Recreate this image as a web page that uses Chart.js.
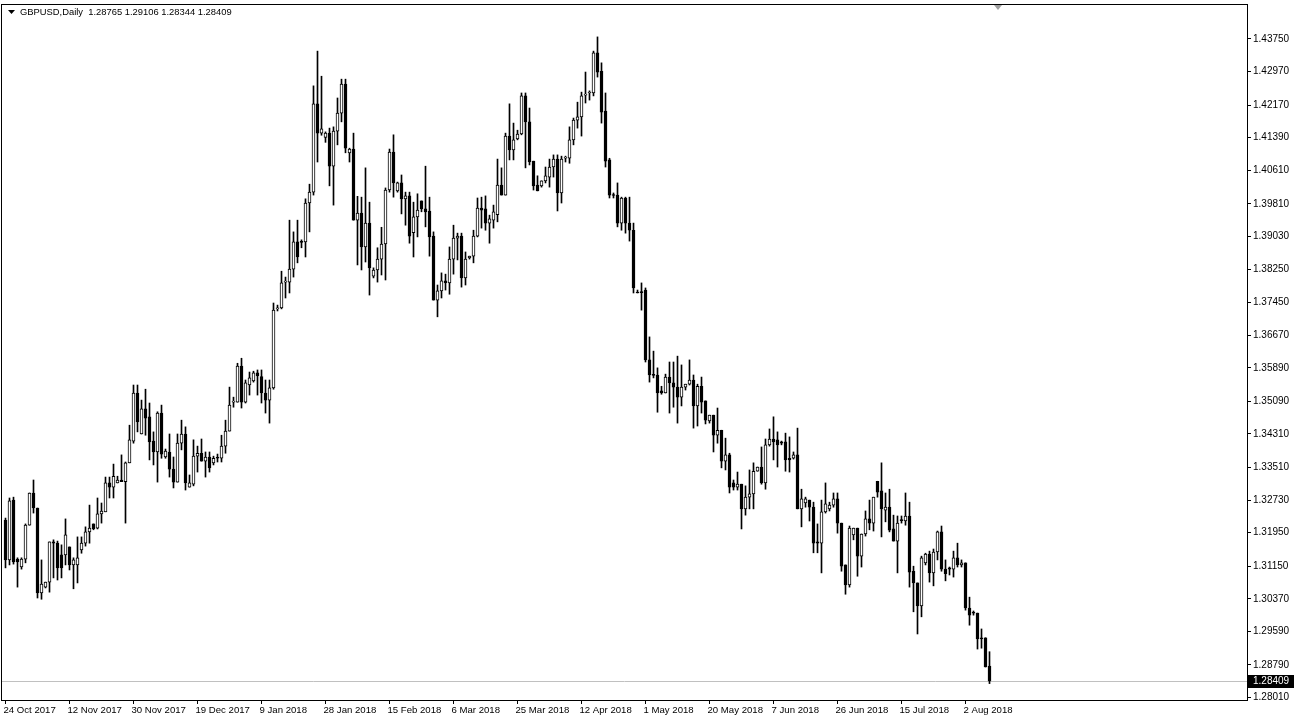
<!DOCTYPE html>
<html><head><meta charset="utf-8">
<script src="https://cdn.jsdelivr.net/npm/chart.js@4.4.0/dist/chart.umd.min.js"></script>
<style>html,body{margin:0;padding:0;background:#fff;overflow:hidden}</style>
</head><body>
<canvas id="c" width="1294" height="724"></canvas>
<script>
const symbolTitle = 'GBPUSD,Daily';
const opens = [1.3225,1.3130,1.3273,1.3132,1.3113,1.3132,1.3213,1.3290,1.3254,1.3051,1.3065,1.3077,1.3173,1.3170,1.3142,1.3142,1.3161,1.3118,1.3118,1.3154,
1.3170,1.3197,1.3216,1.3206,1.3240,1.3245,1.3314,1.3304,1.3314,1.3321,1.3317,1.3362,1.3414,1.3529,1.3431,1.3491,1.3472,1.3414,1.3388,1.3481,
1.3376,1.3388,1.3347,1.3316,1.3409,1.3431,1.3304,1.3311,1.3378,1.3385,1.3366,1.3376,1.3362,1.3374,1.3373,1.3402,1.3438,1.3507,1.3507,1.3593,
1.3507,1.3548,1.3558,1.3577,1.3568,1.3529,1.3512,1.3541,1.3730,1.3732,1.3794,1.3794,1.3825,1.3890,1.3890,1.3890,1.3983,1.4009,1.4220,1.4150,
1.4140,1.4150,1.4071,1.4155,1.4198,1.4267,1.4103,1.4112,1.3942,1.3959,1.3878,1.3935,1.3808,1.3823,1.3849,1.3885,1.4014,1.4105,1.4012,1.4031,
1.3993,1.4000,1.3912,1.3950,1.3988,1.3969,1.3964,1.3904,1.3751,1.3773,1.3797,1.3792,1.3849,1.3899,1.3904,1.3804,1.3852,1.3856,1.3904,1.3971,
1.3969,1.3935,1.3942,1.3955,1.4026,1.4002,1.4143,1.4110,1.4136,1.4148,1.4239,1.4177,1.4083,1.4026,1.4024,1.4036,1.4045,1.4069,1.4088,1.4007,
1.4090,1.4090,1.4134,1.4181,1.4189,1.4241,1.4246,1.4246,1.4342,1.4298,1.4203,1.4086,1.4002,1.4002,1.3935,1.3995,1.3935,1.3918,1.3770,1.3770,
1.3775,1.3608,1.3572,1.3572,1.3534,1.3529,1.3567,1.3553,1.3543,1.3519,1.3543,1.3550,1.3560,1.3498,1.3545,1.3510,1.3462,1.3476,1.3428,1.3440,
1.3366,1.3381,1.3314,1.3304,1.3311,1.3252,1.3280,1.3288,1.3342,1.3352,1.3314,1.3405,1.3419,1.3417,1.3412,1.3412,1.3373,1.3373,1.3381,1.3252,
1.3266,1.3273,1.3256,1.3173,1.3170,1.3245,1.3252,1.3261,1.3276,1.3218,1.3118,1.3070,1.3190,1.3206,1.3139,1.3192,1.3228,1.3218,1.3318,1.3295,
1.3249,1.3256,1.3204,1.3175,1.3225,1.3223,1.3235,1.3103,1.3075,1.3020,1.3123,1.3144,1.3099,1.3149,1.3197,1.3108,1.3111,1.3108,1.3135,1.3118,
1.3123,1.3015,1.3005,1.3003,1.2944,1.2944,1.28765];
const highs = [1.3230,1.3278,1.3280,1.3135,1.3135,1.3216,1.3290,1.3321,1.3254,1.3130,1.3077,1.3173,1.3178,1.3175,1.3166,1.3228,1.3161,1.3135,1.3185,1.3185,
1.3209,1.3261,1.3216,1.3278,1.3266,1.3328,1.3328,1.3359,1.3330,1.3381,1.3364,1.3452,1.3548,1.3548,1.3512,1.3538,1.3505,1.3436,1.3484,1.3500,
1.3395,1.3431,1.3376,1.3431,1.3464,1.3448,1.3333,1.3417,1.3402,1.3419,1.3388,1.3388,1.3378,1.3383,1.3428,1.3464,1.3543,1.3519,1.3600,1.3612,
1.3560,1.3579,1.3581,1.3584,1.3584,1.3560,1.3560,1.3744,1.3739,1.3820,1.3806,1.3942,1.3914,1.3942,1.3895,1.3993,1.4028,1.4263,1.4346,1.4286,
1.4153,1.4162,1.4165,1.4234,1.4279,1.4279,1.4114,1.4150,1.3999,1.3997,1.4067,1.3985,1.3828,1.3876,1.3925,1.4019,1.4112,1.4146,1.4033,1.4050,
1.4009,1.4009,1.3985,1.4005,1.3988,1.4071,1.3997,1.3914,1.3787,1.3816,1.3813,1.3878,1.3930,1.3911,1.3911,1.3866,1.3856,1.3918,1.3995,1.3997,
1.4000,1.3954,1.3978,1.4088,1.4067,1.4150,1.4220,1.4174,1.4157,1.4246,1.4246,1.4210,1.4083,1.4048,1.4036,1.4069,1.4088,1.4098,1.4098,1.4095,
1.4095,1.4165,1.4186,1.4224,1.4248,1.4296,1.4251,1.4346,1.4380,1.4318,1.4246,1.4090,1.4007,1.4031,1.3997,1.3997,1.3997,1.3935,1.3775,1.3792,
1.3780,1.3663,1.3629,1.3589,1.3545,1.3574,1.3603,1.3603,1.3617,1.3596,1.3550,1.3608,1.3572,1.3550,1.3567,1.3510,1.3476,1.3476,1.3493,1.3440,
1.3421,1.3385,1.3321,1.3340,1.3311,1.3307,1.3345,1.3362,1.3352,1.3400,1.3419,1.3443,1.3472,1.3436,1.3414,1.3433,1.3424,1.3388,1.3445,1.3299,
1.3280,1.3273,1.3268,1.3216,1.3273,1.3314,1.3268,1.3290,1.3290,1.3218,1.3118,1.3211,1.3206,1.3206,1.3192,1.3247,1.3273,1.3280,1.3318,1.3362,
1.3290,1.3299,1.3237,1.3235,1.3235,1.3290,1.3268,1.3115,1.3075,1.3139,1.3146,1.3151,1.3156,1.3199,1.3211,1.3130,1.3113,1.3151,1.3170,1.3130,
1.3123,1.3041,1.3008,1.3003,1.2965,1.2944,1.29106];
const lows = [1.3111,1.3118,1.3120,1.3065,1.3108,1.3123,1.3213,1.3242,1.3039,1.3036,1.3063,1.3053,1.3087,1.3082,1.3087,1.3118,1.3106,1.3061,1.3075,1.3146,
1.3163,1.3170,1.3202,1.3204,1.3218,1.3245,1.3278,1.3278,1.3314,1.3317,1.3218,1.3362,1.3409,1.3436,1.3431,1.3428,1.3369,1.3357,1.3316,1.3373,
1.3373,1.3328,1.3302,1.3316,1.3393,1.3297,1.3304,1.3307,1.3340,1.3366,1.3328,1.3340,1.3357,1.3364,1.3364,1.3385,1.3438,1.3495,1.3507,1.3493,
1.3505,1.3524,1.3555,1.3524,1.3505,1.3481,1.3457,1.3538,1.3725,1.3730,1.3756,1.3768,1.3806,1.3840,1.3876,1.3854,1.3914,1.4002,1.4081,1.4145,
1.4128,1.4024,1.3978,1.4122,1.4177,1.4103,1.4081,1.3942,1.3835,1.3823,1.3842,1.3763,1.3804,1.3794,1.3811,1.3799,1.4009,1.3997,1.4009,1.3957,
1.3930,1.3887,1.3854,1.3902,1.3962,1.3926,1.3856,1.3751,1.3711,1.3756,1.3775,1.3765,1.3813,1.3847,1.3782,1.3787,1.3849,1.3840,1.3902,1.3923,
1.3918,1.3887,1.3923,1.3938,1.4002,1.4002,1.4086,1.4086,1.4134,1.4146,1.4067,1.4074,1.4014,1.4012,1.4021,1.4031,1.4021,1.4045,1.3964,1.3983,
1.4081,1.4078,1.4122,1.4162,1.4143,1.4222,1.4229,1.4239,1.4284,1.4174,1.4069,1.3995,1.3995,1.3926,1.3918,1.3911,1.3892,1.3768,1.3768,1.3727,
1.3603,1.3555,1.3565,1.3483,1.3526,1.3529,1.3481,1.3495,1.3457,1.3498,1.3536,1.3548,1.3445,1.3450,1.3481,1.3455,1.3457,1.3388,1.3409,1.3350,
1.3345,1.3290,1.3297,1.3297,1.3204,1.3237,1.3252,1.3252,1.3342,1.3311,1.3299,1.3402,1.3369,1.3352,1.3405,1.3342,1.3340,1.3371,1.3252,1.3209,
1.3256,1.3223,1.3147,1.3147,1.3099,1.3242,1.3247,1.3256,1.3194,1.3103,1.3048,1.3065,1.3178,1.3091,1.3113,1.3187,1.3202,1.3199,1.3280,1.3185,
1.3221,1.3197,1.3175,1.3099,1.3218,1.3213,1.3065,1.3006,1.2953,1.2994,1.3118,1.3077,1.3068,1.3130,1.3103,1.3080,1.3094,1.3089,1.3113,1.3113,
1.3010,1.2974,1.2998,1.2917,1.2919,1.2874,1.28344];
const closes = [1.3130,1.3271,1.3125,1.3125,1.3132,1.3213,1.3290,1.3254,1.3051,1.3072,1.3077,1.3173,1.3170,1.3111,1.3111,1.3190,1.3118,1.3130,1.3135,1.3170,
1.3197,1.3206,1.3204,1.3240,1.3247,1.3314,1.3304,1.3330,1.3321,1.3317,1.3362,1.3417,1.3529,1.3460,1.3491,1.3469,1.3412,1.3388,1.3481,1.3383,
1.3390,1.3347,1.3316,1.3409,1.3431,1.3314,1.3314,1.3378,1.3385,1.3366,1.3376,1.3350,1.3373,1.3373,1.3402,1.3438,1.3500,1.3508,1.3593,1.3507,
1.3553,1.3565,1.3577,1.3570,1.3529,1.3512,1.3541,1.3727,1.3732,1.3792,1.3795,1.3825,1.3890,1.3854,1.3889,1.3983,1.4009,1.4220,1.4150,1.4160,
1.4150,1.4071,1.4155,1.4198,1.4267,1.4114,1.4112,1.3942,1.3959,1.3878,1.3935,1.3828,1.3823,1.3849,1.3885,1.4014,1.4105,1.4031,1.4031,1.3993,
1.4000,1.3904,1.3950,1.3966,1.3969,1.3962,1.3902,1.3751,1.3773,1.3797,1.3792,1.3849,1.3899,1.3904,1.3804,1.3849,1.3856,1.3904,1.3971,1.3966,
1.3935,1.3945,1.3962,1.4026,1.4002,1.4143,1.4110,1.4134,1.4148,1.4239,1.4177,1.4081,1.4024,1.4012,1.4036,1.4048,1.4069,1.4088,1.4007,1.4088,
1.4093,1.4134,1.4181,1.4189,1.4239,1.4242,1.4248,1.4342,1.4296,1.4200,1.4083,1.4002,1.4001,1.3935,1.3995,1.3935,1.3918,1.3780,1.3768,1.3769,
1.3608,1.3572,1.3571,1.3529,1.3529,1.3567,1.3553,1.3543,1.3519,1.3543,1.3550,1.3560,1.3498,1.3545,1.3507,1.3464,1.3476,1.3428,1.3440,1.3366,
1.3381,1.3304,1.3304,1.3311,1.3252,1.3280,1.3288,1.3342,1.3352,1.3314,1.3405,1.3419,1.3412,1.3405,1.3409,1.3369,1.3369,1.3381,1.3252,1.3276,
1.3276,1.3256,1.3170,1.3170,1.3245,1.3264,1.3261,1.3276,1.3218,1.3115,1.3070,1.3206,1.3206,1.3139,1.3192,1.3228,1.3218,1.3280,1.3292,1.3252,
1.3256,1.3201,1.3175,1.3218,1.3224,1.3235,1.3101,1.3075,1.3020,1.3135,1.3144,1.3099,1.3149,1.3197,1.3108,1.3097,1.3108,1.3135,1.3118,1.3123,
1.3015,1.2998,1.3003,1.2941,1.2941,1.2874,1.28409];
const dateLabels = ['24 Oct 2017','12 Nov 2017','30 Nov 2017','19 Dec 2017','9 Jan 2018','28 Jan 2018','15 Feb 2018','6 Mar 2018','25 Mar 2018','12 Apr 2018','1 May 2018','20 May 2018','7 Jun 2018','26 Jun 2018','15 Jul 2018','2 Aug 2018'];
const dateIndex = [0,16,32,48,64,80,96,112,128,144,160,176,192,208,224,240];
const priceTicks = [1.43750,1.42970,1.42170,1.41390,1.40610,1.39810,1.39030,1.38250,1.37450,1.36670,1.35890,1.35090,1.34310,1.33510,1.32730,1.31950,1.31150,1.30370,1.29590,1.28790,1.28010];
const yMin = 1.27952, yMax = 1.445625;
const xMin = -0.875, xMax = 310.375;

const n = closes.length;
const last = n - 1;
const wickData = lows.map((l, i) => ({x: i, y: [l, highs[i]]}));
const bodyData = opens.map((o, i) => ({x: i, y: [o, closes[i]]}));
const bodyFill = opens.map((o, i) => closes[i] >= o ? '#ffffff' : '#000000');
const FONT = 'Liberation Sans';

const decor = {
  id: 'decor',
  beforeDatasetsDraw(chart) {
    const {ctx, chartArea: a, scales: {y}} = chart;
    const py = Math.round(y.getPixelForValue(closes[last])) + 0.5;
    ctx.save();
    ctx.strokeStyle = '#c0c0c0'; ctx.lineWidth = 1;
    ctx.beginPath(); ctx.moveTo(a.left, py); ctx.lineTo(a.right, py); ctx.stroke();
    ctx.restore();
  },
  afterDraw(chart) {
    const {ctx, chartArea: a, scales: {x, y}} = chart;
    ctx.save();
    ctx.strokeStyle = '#000'; ctx.lineWidth = 1;
    ctx.strokeRect(a.left - 0.5, a.top - 0.5, a.right - a.left + 1, a.bottom - a.top + 1);
    ctx.fillStyle = '#000';
    ctx.beginPath(); ctx.moveTo(8, 10); ctx.lineTo(15, 10); ctx.lineTo(11.5, 14); ctx.closePath(); ctx.fill();
    ctx.font = '9.4px "' + FONT + '"';
    ctx.textBaseline = 'middle'; ctx.textAlign = 'left';
    const hdr = symbolTitle + '  ' + [opens[last], highs[last], lows[last], closes[last]].map(v => v.toFixed(5)).join(' ');
    ctx.fillText(hdr, 20, 12);
    const sx = Math.round(x.getPixelForValue(last + 2));
    ctx.fillStyle = '#a0a0a0';
    ctx.beginPath(); ctx.moveTo(sx - 4, a.top); ctx.lineTo(sx + 4, a.top); ctx.lineTo(sx, a.top + 5); ctx.closePath(); ctx.fill();
    const py = Math.round(y.getPixelForValue(closes[last]));
    ctx.fillStyle = '#000';
    ctx.fillRect(a.right + 1, py - 6, 46, 13);
    ctx.fillStyle = '#fff';
    ctx.font = '10px "' + FONT + '"';
    ctx.fillText(closes[last].toFixed(5), a.right + 6, py + 0.5);
    ctx.restore();
  }
};

new Chart(document.getElementById('c'), {
  type: 'bar',
  data: {
    datasets: [
      {data: wickData, backgroundColor: '#000', borderWidth: 0, barThickness: 1, grouped: false, order: 2},
      {data: bodyData, backgroundColor: bodyFill, borderColor: '#000', borderWidth: 1, borderSkipped: false,
       barThickness: 3, grouped: false, order: 1, minBarLength: 1}
    ]
  },
  options: {
    responsive: false, animation: false, devicePixelRatio: 1,
    layout: {padding: {left: 2, top: 5, right: 0, bottom: 0}},
    plugins: {legend: {display: false}, tooltip: {enabled: false}},
    scales: {
      x: {
        type: 'linear', min: xMin, max: xMax, bounds: 'data', offset: false,
        afterBuildTicks: s => { s.ticks = dateIndex.map(v => ({value: v})); },
        afterFit: s => { s.height = 24; s.paddingLeft = 0; s.paddingRight = 0; },
        ticks: {autoSkip: false, maxRotation: 0, minRotation: 0, align: 'start', padding: 1, labelOffset: -2, color: '#000',
                font: {family: FONT, size: 9.6}, callback: (v, i) => dateLabels[i]},
        grid: {drawOnChartArea: false, drawTicks: true, tickLength: 4, color: '#000', offset: false},
        border: {display: false}
      },
      y: {
        type: 'linear', position: 'right', min: yMin, max: yMax, bounds: 'data',
        afterBuildTicks: s => { s.ticks = priceTicks.map(v => ({value: v})); },
        afterFit: s => { s.width = 47; s.paddingTop = 0; s.paddingBottom = 0; },
        ticks: {padding: 2, color: '#000', font: {family: FONT, size: 10}, callback: v => v.toFixed(5)},
        grid: {drawOnChartArea: false, drawTicks: true, tickLength: 4, color: '#000'},
        border: {display: false}
      }
    }
  },
  plugins: [decor]
});
</script>
</body></html>
